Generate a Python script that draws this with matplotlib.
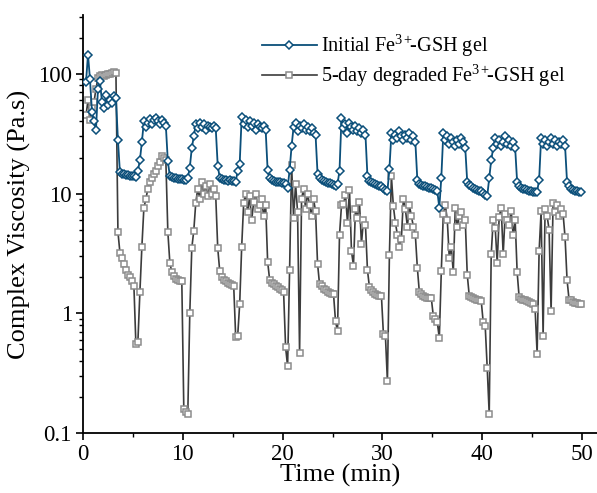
import matplotlib
matplotlib.use("Agg")
import matplotlib.pyplot as plt
from matplotlib import ticker

plt.rcParams["font.family"] = ["Liberation Serif", "DejaVu Serif"]
plt.rcParams["mathtext.fontset"] = "custom"
plt.rcParams["mathtext.rm"] = "Liberation Serif"
plt.rcParams["mathtext.it"] = "Liberation Serif:italic"

# ── colours ──────────────────────────────────────────────────────────
C_INIT = "#0b4f7a"      # initial gel, diamonds + line
C_DEG_LINE = "#3c3c3c"  # degraded gel, line
C_DEG_MK = "#8c8c8c"    # degraded gel, square edges

# ── data ─────────────────────────────────────────────────────────────
# time in minutes, one row per strain step
time_min = [
    0.3, 0.5, 0.7, 0.9, 1.1, 1.3, 1.5, 1.7, 1.9, 2.1, 2.3, 2.5, 2.7, 2.9, 3.1, 3.3,
    3.5, 3.7, 3.9, 4.1, 4.3, 4.5, 4.7, 4.9, 5.1, 5.3, 5.5, 5.7,
    5.9, 6.1, 6.3, 6.5, 6.7, 6.9, 7.1, 7.3, 7.5, 7.7, 7.9, 8.1, 8.3,
    8.5, 8.7, 8.9, 9.1, 9.3, 9.5, 9.7, 9.9, 10.1, 10.3, 10.5, 10.7,
    10.9, 11.1, 11.3, 11.5, 11.7, 11.9, 12.1, 12.3, 12.5, 12.7, 12.9, 13.1, 13.3,
    13.5, 13.7, 13.9, 14.1, 14.3, 14.5, 14.7, 14.9, 15.1, 15.3, 15.5, 15.7,
    15.9, 16.1, 16.3, 16.5, 16.7, 16.9, 17.1, 17.3, 17.5, 17.7, 17.9, 18.1, 18.3,
    18.5, 18.7, 18.9, 19.1, 19.3, 19.5, 19.7, 19.9, 20.1, 20.3, 20.5, 20.7,
    20.9, 21.1, 21.3, 21.5, 21.7, 21.9, 22.1, 22.3, 22.5, 22.7, 22.9, 23.1, 23.3,
    23.5, 23.7, 23.9, 24.1, 24.3, 24.5, 24.7, 24.9, 25.1, 25.3, 25.5, 25.7,
    25.9, 26.1, 26.3, 26.5, 26.7, 26.9, 27.1, 27.3, 27.5, 27.7, 27.9, 28.1, 28.3,
    28.5, 28.7, 28.9, 29.1, 29.3, 29.5, 29.7, 29.9, 30.1, 30.3, 30.5, 30.7,
    30.9, 31.1, 31.3, 31.5, 31.7, 31.9, 32.1, 32.3, 32.5, 32.7, 32.9, 33.1, 33.3,
    33.5, 33.7, 33.9, 34.1, 34.3, 34.5, 34.7, 34.9, 35.1, 35.3, 35.5, 35.7,
    35.9, 36.1, 36.3, 36.5, 36.7, 36.9, 37.1, 37.3, 37.5, 37.7, 37.9, 38.1, 38.3,
    38.5, 38.7, 38.9, 39.1, 39.3, 39.5, 39.7, 39.9, 40.1, 40.3, 40.5, 40.7,
    40.9, 41.1, 41.3, 41.5, 41.7, 41.9, 42.1, 42.3, 42.5, 42.7, 42.9, 43.1, 43.3,
    43.5, 43.7, 43.9, 44.1, 44.3, 44.5, 44.7, 44.9, 45.1, 45.3, 45.5, 45.7,
    45.9, 46.1, 46.3, 46.5, 46.7, 46.9, 47.1, 47.3, 47.5, 47.7, 47.9, 48.1, 48.3,
    48.5, 48.7, 48.9, 49.1, 49.3, 49.5, 49.7, 49.9,
]

# complex viscosity (Pa.s), initial Fe3+-GSH gel
visc_initial = [
    85, 145, 90, 48, 40, 34, 75, 87, 58, 52, 67, 55, 60, 57, 65, 63,
    28, 15, 14.6, 14.5, 14.4, 14.3, 14.1, 14.0, 13.9, 13.8, 15.5, 19,
    27, 40, 36, 39, 42, 38, 41, 43, 40, 38, 41, 39, 37,
    18.6, 14, 13.7, 13.5, 13.4, 13.3, 13.2, 13.3, 13.1, 13, 13.5, 16.5,
    24, 30, 38, 35, 39, 36, 38, 34, 37, 36, 35, 37, 35,
    17, 13.6, 13.2, 13, 12.9, 12.8, 12.9, 12.7, 12.8, 12.6, 15.5, 17.8,
    44, 38, 41, 36, 40, 37, 39, 34, 38, 36, 35, 37, 34,
    15.6, 13.5, 13, 12.8, 12.6, 12.5, 12.4, 12.3, 12.2, 12.0, 11.2, 15.6,
    25, 36, 39, 33, 37, 35, 38, 34, 36, 33, 35, 32, 31,
    14.7, 13.6, 13, 12.8, 12.5, 12.3, 12.2, 12, 11.8, 11.5, 12, 15.5,
    43, 35, 38, 32, 39, 36, 34, 37, 33, 35, 32, 34, 31,
    14, 12.8, 12.5, 12.2, 12, 11.8, 11.6, 11.5, 11.2, 10.8, 10.5, 16,
    32, 28, 31, 29, 33, 30, 28, 31, 29, 32, 28, 30, 27,
    13, 12, 11.8, 11.6, 11.5, 11.3, 11.2, 11.1, 11, 10.8, 10.5, 7.6,
    13.5, 32, 28, 30, 26, 29, 27, 25, 28, 26, 29, 27, 24,
    12.4, 11.8, 11.5, 11.2, 11, 10.8, 10.6, 10.5, 10.2, 9.8, 9.5, 13.5,
    19, 24, 29, 26, 28, 25, 27, 30, 26, 28, 25, 27, 24,
    12.4, 11.5, 11.2, 11, 10.9, 10.7, 10.6, 10.5, 10.4, 10.3, 10.4, 13,
    29, 26, 28, 25, 27, 29, 26, 28, 25, 27, 26, 28, 25,
    12.4, 11.5, 11, 10.8, 10.6, 10.5, 10.4, 10.3,
]

# complex viscosity (Pa.s), 5-day degraded gel
visc_degraded = [
    45, 60, 41, 52, 58, 75, 92, 95, 97, 96, 98, 100, 99, 101, 103, 102,
    4.8, 3.2, 2.9, 2.6, 2.3, 2.1, 2.0, 1.85, 1.7, 0.55, 0.58, 1.5,
    3.6, 7.6, 9, 11, 12.5, 13.5, 14.5, 15.5, 17, 18.5, 20.4, 20, 19,
    4.8, 2.65, 2.2, 2.05, 1.95, 1.9, 1.85, 1.85, 0.16, 0.15, 0.145, 1.0,
    3.5, 4.9, 8.4, 11, 9, 12.5, 10, 11.5, 9.5, 12, 10, 11, 9.5,
    3.5, 2.25, 2.0, 1.9, 1.85, 1.8, 1.75, 1.72, 1.7, 0.63, 0.65, 1.2,
    3.6, 8.4, 10, 7, 9.5, 6, 8.5, 10, 7.5, 8, 9, 6.5, 8,
    2.7, 1.9, 1.8, 1.75, 1.7, 1.65, 1.6, 1.55, 1.5, 0.52, 0.36, 2.3,
    17.4, 6.3, 12, 7, 0.47, 9, 11, 7.5, 10, 8, 6.5, 9, 7.1,
    2.6, 1.75, 1.7, 1.6, 1.55, 1.5, 1.48, 1.45, 1.45, 0.86, 0.71, 4.5,
    8, 8.2, 9.8, 5.7, 10.8, 3.3, 2.5, 7.4, 6.3, 8.5, 3.8, 6, 5.5,
    2.3, 1.65, 1.55, 1.5, 1.45, 1.42, 1.4, 1.4, 0.67, 0.65, 0.27, 3.05,
    14, 7.8, 5.7, 4.5, 3.6, 4.2, 9, 7.4, 5.3, 8, 6.5, 5.3, 4.5,
    2.4, 1.5, 1.45, 1.4, 1.38, 1.35, 1.33, 1.33, 0.95, 0.9, 0.84, 0.62,
    2.25, 6.7, 8.1, 6, 2.9, 3.6, 2.2, 7.6, 5.3, 6.5, 7, 5.5, 6,
    2.1, 1.4, 1.38, 1.35, 1.32, 1.3, 1.28, 1.27, 0.84, 0.78, 0.35, 0.144,
    3.1, 6, 5.2, 2.65, 6.4, 7.6, 3.1, 6.8, 6, 5.5, 7.2, 4.5, 6,
    2.2, 1.36, 1.32, 1.3, 1.28, 1.26, 1.25, 1.23, 1.2, 1.08, 0.46, 3.3,
    7.1, 0.65, 7.4, 6.5, 5, 1.04, 8.4, 7, 8, 6.5, 7.5, 6.8, 4.3,
    1.9, 1.3, 1.28, 1.25, 1.23, 1.22, 1.2, 1.19,
]

LABEL_INIT = r"Initial Fe$^{3+}\!\!$-GSH gel"
LABEL_DEG = r"5-day degraded Fe$^{3+}\!\!$-GSH gel"

# ── figure ───────────────────────────────────────────────────────────
fig = plt.figure(figsize=(5.97, 4.93), dpi=100)
ax = fig.add_axes([83 / 597, 60 / 493, 514 / 597, 418 / 493])

h_deg, = ax.plot(time_min, visc_degraded, color=C_DEG_LINE, lw=1.2,
                 marker="s", ms=5, mfc="white", mec=C_DEG_MK, mew=1.1,
                 zorder=2, label=LABEL_DEG)
h_init, = ax.plot(time_min, visc_initial, color=C_INIT, lw=1.3,
                  marker="D", ms=4.3, mfc="white", mec=C_INIT, mew=1.1,
                  zorder=3, label=LABEL_INIT)

ax.set_yscale("log")
ax.set_ylim(0.1, 310)
ax.set_xlim(0, 51.5)
ax.set_xticks([0, 10, 20, 30, 40, 50])
ax.xaxis.set_minor_locator(ticker.MultipleLocator(5))
ax.yaxis.set_major_locator(ticker.FixedLocator([0.1, 1, 10, 100]))
ax.yaxis.set_minor_locator(ticker.LogLocator(base=10, subs=range(2, 10)))
ax.yaxis.set_major_formatter(ticker.FuncFormatter(lambda v, _: f"{v:g}"))
ax.yaxis.set_minor_formatter(ticker.NullFormatter())

ax.spines["top"].set_visible(False)
ax.spines["right"].set_visible(False)
for s in ("left", "bottom"):
    ax.spines[s].set_linewidth(1.3)
ax.tick_params(which="major", direction="out", length=5, width=1.2,
               labelsize=16.5, colors="black", pad=3)
ax.tick_params(which="minor", direction="out", length=3, width=1.0)

ax.set_xlabel("Time (min)", fontsize=19, labelpad=-1)
ax.set_ylabel("Complex Viscosity (Pa.s)", fontsize=19, labelpad=5)

fig.legend(handles=[h_init, h_deg], loc="upper left",
           bbox_to_anchor=(262 / 597, 1 - 33 / 493), frameon=False,
           fontsize=14.6, handlelength=2.7, handletextpad=0.2,
           labelspacing=0.2, borderpad=0, borderaxespad=0)

fig.savefig("out.png", dpi=100)
plt.close(fig)
